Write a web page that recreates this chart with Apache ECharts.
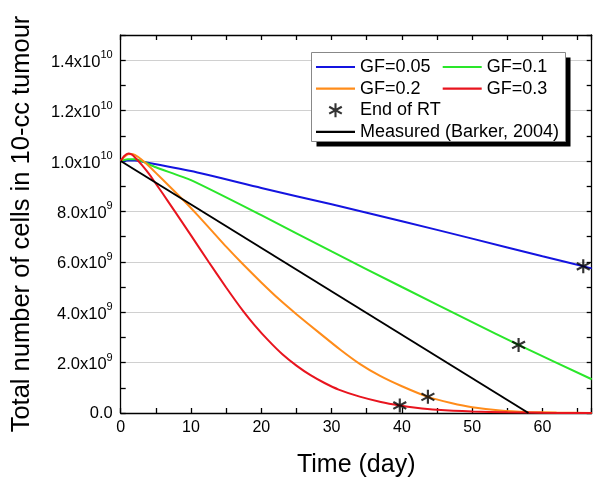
<!DOCTYPE html>
<html>
<head>
<meta charset="utf-8">
<script src="https://cdn.jsdelivr.net/npm/echarts@6/dist/echarts.min.js"></script>
<style>html,body{margin:0;padding:0;background:#fff}#c{width:601px;height:489px}</style>
</head>
<body>
<div id="c"></div>
<script>
// values in units of 10^9 cells
const days_GF005  = [0, 1, 2, 3, 10, 20, 30, 40, 50, 60, 67];
const cells_GF005 = [10.0, 10.02, 10.02, 9.98, 9.60, 8.93, 8.28, 7.61, 6.92, 6.22, 5.74];
const days_GF01   = [0, 1, 2, 3, 5, 10, 20, 30, 40, 50, 56.6, 67];
const cells_GF01  = [10.0, 10.07, 10.07, 10.0, 9.75, 9.24, 7.85, 6.41, 5.00, 3.61, 2.70, 1.34];
const days_GF02   = [0, 0.5, 1, 1.5, 2, 3, 4, 5, 7, 9, 11, 13, 15, 17.4, 20, 22.5, 25, 28.3, 31.2, 34, 36.9, 40, 43.7, 47, 50, 54, 58, 62, 67];
const cells_GF02  = [10.0, 10.16, 10.26, 10.28, 10.24, 10.05, 9.8, 9.53, 8.98, 8.42, 7.83, 7.22, 6.6, 5.9, 5.18, 4.52, 3.92, 3.17, 2.52, 1.95, 1.47, 1.06, 0.64, 0.40, 0.23, 0.10, 0.04, 0.015, 0.0];
const days_GF03   = [0, 0.5, 1.1, 1.6, 2, 3, 4, 5, 6, 7.7, 10, 12.5, 15, 17.4, 19, 21, 23, 25, 27, 29, 31, 34, 37, 39.7, 42, 45, 50, 55, 60, 67];
const cells_GF03  = [10.0, 10.2, 10.3, 10.25, 10.15, 9.85, 9.5, 9.1, 8.7, 8.0, 7.05, 6.0, 4.98, 4.05, 3.5, 2.88, 2.33, 1.88, 1.5, 1.19, 0.93, 0.65, 0.44, 0.30, 0.21, 0.13, 0.06, 0.025, 0.01, 0.0];
const days_meas   = [0, 58];
const cells_meas  = [10.0, 0.0];
const days_endRT  = [39.7, 43.7, 56.6, 65.8];
const cells_endRT = [0.30, 0.64, 2.70, 5.82];
const xTicks = [0, 10, 20, 30, 40, 50, 60];
const yTicks = [0, 2, 4, 6, 8, 10, 12, 14];

const zip = (a, b) => a.map((v, i) => [v, b[i]]);
const FONT = '"Liberation Sans", Arial, Helvetica, sans-serif';
const star = 'path://M8.5 0L11.5 0L11.5 20L8.5 20Z M0.25 6.4L1.75 3.8L19.75 13.6L18.25 16.2Z M1.75 16.2L0.25 13.6L18.25 3.8L19.75 6.4Z M8 8L12 8L12 12L8 12Z';
const lineIcon = 'path://M0 0H39V2.2H0Z';

function yLabel(v) {
  if (v === 0) return '{n|0.0}';
  if (yTicks.indexOf(v) < 0) return '';
  if (v >= 10) return '{n|' + (v / 10).toFixed(1) + 'x10}{s|10}';
  return '{n|' + v.toFixed(1) + 'x10}{s|9}';
}

const chart = echarts.init(document.getElementById('c'), null, {renderer: 'canvas'});
const lineS = (name, d, c, color) => ({
  name, type: 'line', data: zip(d, c), showSymbol: false, symbol: 'none',
  smooth: 0.2, lineStyle: {width: 2, color}, itemStyle: {color}, z: 3
});
const axisCommon = {
  type: 'value', axisLine: {show: true, onZero: false, lineStyle: {color: '#000', width: 1.3}},
  axisTick: {show: true, inside: true, length: 5, lineStyle: {color: '#000', width: 1.3}},
  minorTick: {show: true, splitNumber: 2, length: 5, lineStyle: {color: '#000', width: 1.3}}
};
chart.setOption({
  animation: false,
  backgroundColor: '#fff',
  grid: {left: 120.7, right: 9.3, top: 35, bottom: 76},
  xAxis: [
    Object.assign({}, axisCommon, {
      min: 0, max: 67, interval: 10, position: 'bottom',
      axisLabel: {fontFamily: FONT, fontSize: 16, color: '#000', margin: 7,
        formatter: v => xTicks.indexOf(v) >= 0 ? String(v) : '', showMaxLabel: false},
      splitLine: {show: false},
      name: 'Time (day)', nameLocation: 'middle', nameGap: 40,
      nameTextStyle: {fontFamily: FONT, fontSize: 25, color: '#000'}
    }),
    Object.assign({}, axisCommon, {
      min: 0, max: 67, interval: 10, position: 'top',
      axisLabel: {show: false}, splitLine: {show: false}
    })
  ],
  yAxis: [
    Object.assign({}, axisCommon, {
      min: 0, max: 15, interval: 2, position: 'left',
      axisLabel: {fontFamily: FONT, color: '#000', margin: 8, formatter: yLabel, showMaxLabel: false,
        rich: {n: {fontFamily: FONT, fontSize: 16.5, color: '#000', verticalAlign: 'bottom'},
               s: {fontFamily: FONT, fontSize: 11, color: '#000', verticalAlign: 'top', padding: [0, 0, 10, 0]}}},
      splitLine: {show: true, lineStyle: {color: '#d0d0d0', width: 1}},
      name: 'Total number of cells in 10-cc tumour', nameLocation: 'middle', nameGap: 86,
      nameTextStyle: {fontFamily: FONT, fontSize: 25.5, color: '#000'}
    }),
    Object.assign({}, axisCommon, {
      min: 0, max: 15, interval: 2, position: 'right',
      axisLabel: {show: false}, splitLine: {show: false}
    })
  ],
  graphic: [
    {type: 'rect', z: 50, shape: {x: 316.5, y: 57.5, width: 254, height: 89}, style: {fill: '#000'}},
    {type: 'rect', z: 51, shape: {x: 311.5, y: 52.5, width: 254, height: 89}, style: {fill: '#fff', stroke: '#888', lineWidth: 1}}
  ],
  legend: [
    {orient: 'vertical', left: 316, top: 58, padding: 0, itemWidth: 39, itemHeight: 14, itemGap: 3.6, z: 60,
     textStyle: {fontFamily: FONT, fontSize: 18, color: '#000'},
     data: [{name: 'GF=0.05', icon: lineIcon}, {name: 'GF=0.2', icon: lineIcon},
            {name: 'End of RT', icon: star}, {name: 'Measured (Barker, 2004)', icon: lineIcon}]},
    {orient: 'vertical', left: 442.7, top: 58, padding: 0, itemWidth: 39, itemHeight: 14, itemGap: 3.6, z: 60,
     textStyle: {fontFamily: FONT, fontSize: 18, color: '#000'},
     data: [{name: 'GF=0.1', icon: lineIcon}, {name: 'GF=0.3', icon: lineIcon}]}
  ],
  series: [
    lineS('GF=0.05', days_GF005, cells_GF005, '#1414e0'),
    lineS('GF=0.1', days_GF01, cells_GF01, '#2ae62a'),
    lineS('GF=0.2', days_GF02, cells_GF02, '#ff8c1a'),
    lineS('GF=0.3', days_GF03, cells_GF03, '#e8141e'),
    {name: 'Measured (Barker, 2004)', type: 'line', data: zip(days_meas, cells_meas), showSymbol: false, symbol: 'none',
     lineStyle: {width: 2, color: '#000'}, itemStyle: {color: '#000'}, z: 3},
    {name: 'End of RT', type: 'scatter', data: zip(days_endRT, cells_endRT), symbol: star, symbolSize: 14,
     itemStyle: {color: '#000'}, z: 5}
  ]
});
</script>
</body>
</html>
